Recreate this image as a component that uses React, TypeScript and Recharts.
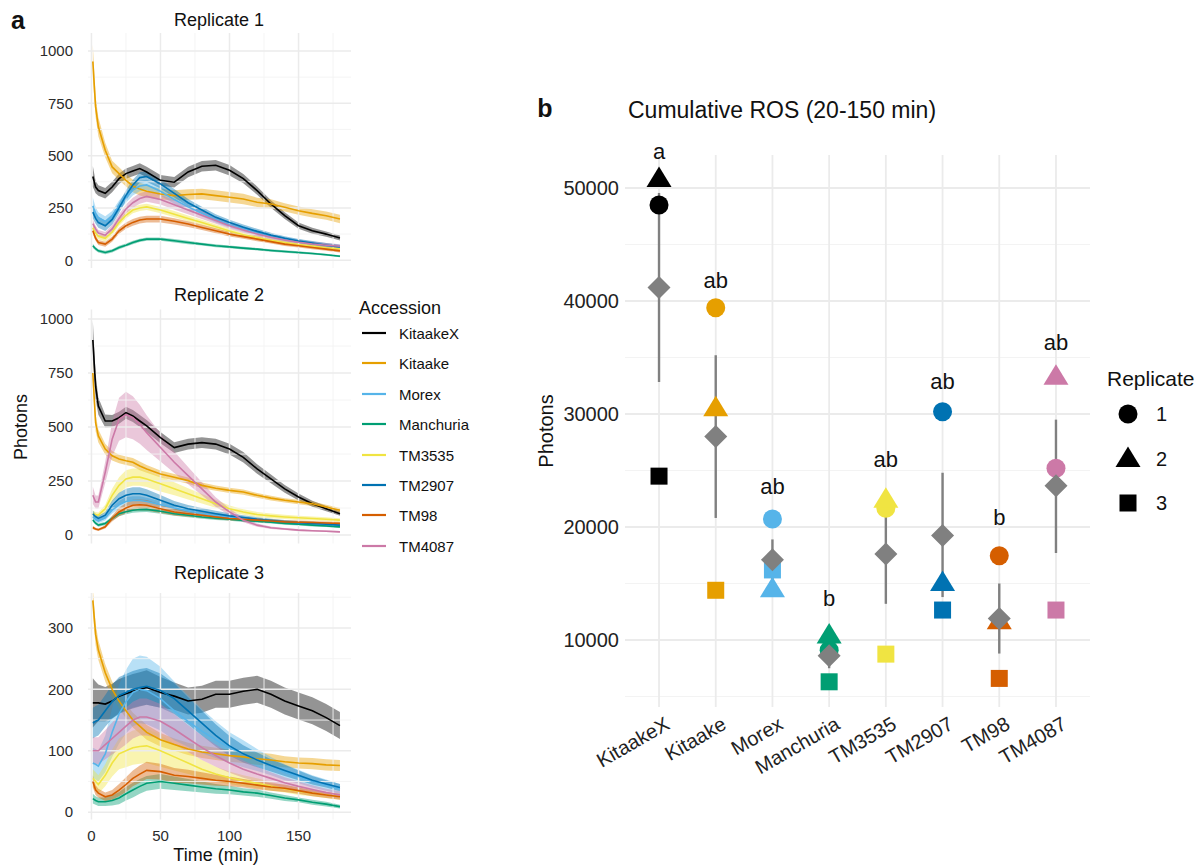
import {
  ComposedChart,
  ScatterChart,
  Scatter,
  Line,
  Area,
  XAxis,
  YAxis,
  ReferenceLine,
  ReferenceDot,
  ErrorBar,
} from "recharts";

const ACCESSIONS = ["KitaakeX", "Kitaake", "Morex", "Manchuria", "TM3535", "TM2907", "TM98", "TM4087"];

const COLORS: Record<string, string> = {
  KitaakeX: "#000000",
  Kitaake: "#E69F00",
  Morex: "#56B4E9",
  Manchuria: "#009E73",
  TM3535: "#F0E442",
  TM2907: "#0072B2",
  TM98: "#D55E00",
  TM4087: "#CC79A7",
};

// time course (min)
const TIME = [1, 3, 5, 10, 15, 20, 25, 30, 35, 40, 50, 60, 70, 80, 90, 100, 110, 120, 130, 140, 150, 160, 170, 180];

// replicate 1: mean photons per accession (rows follow ACCESSIONS)
const R1_MEAN = [
  [400, 350, 333, 320, 350, 390, 414, 426, 438, 422, 382, 373, 422, 449, 454, 430, 390, 333, 269, 213, 165, 141, 125, 106],
  [950, 734, 638, 526, 446, 414, 382, 355, 340, 330, 317, 309, 314, 317, 309, 301, 293, 277, 269, 253, 237, 224, 213, 197],
  [260, 225, 205, 185, 210, 260, 300, 335, 355, 360, 330, 290, 255, 225, 195, 170, 150, 130, 115, 100, 90, 80, 72, 65],
  [69, 55, 45, 37, 45, 61, 72, 85, 95, 101, 101, 93, 85, 77, 69, 64, 58, 53, 47, 42, 37, 32, 26, 19],
  [155, 130, 115, 105, 135, 180, 215, 240, 250, 255, 240, 220, 200, 180, 160, 140, 122, 108, 95, 85, 75, 68, 60, 55],
  [230, 200, 180, 165, 195, 250, 310, 360, 395, 400, 365, 320, 275, 240, 205, 180, 158, 138, 120, 105, 92, 82, 72, 63],
  [141, 105, 85, 77, 101, 141, 165, 181, 192, 197, 197, 186, 173, 157, 141, 125, 113, 101, 89, 77, 69, 61, 53, 45],
  [175, 150, 130, 120, 150, 200, 245, 275, 295, 305, 290, 265, 240, 215, 190, 165, 145, 125, 110, 97, 86, 78, 72, 67],
];
const R1_SPREAD = [
  [50, 30, 25, 25, 25, 25, 25, 25, 25, 25, 25, 25, 25, 25, 25, 25, 22, 20, 18, 16, 15, 14, 13, 12],
  [80, 50, 45, 35, 30, 30, 30, 30, 30, 30, 25, 25, 25, 25, 25, 25, 25, 22, 22, 20, 20, 20, 20, 20],
  [40, 30, 25, 25, 25, 25, 25, 25, 25, 25, 22, 20, 18, 16, 15, 14, 13, 12, 11, 10, 10, 10, 10, 10],
  [10, 8, 8, 8, 8, 8, 8, 8, 8, 8, 8, 8, 8, 7, 7, 7, 7, 6, 6, 6, 6, 5, 5, 5],
  [20, 15, 15, 15, 15, 15, 15, 15, 15, 15, 15, 15, 14, 13, 12, 11, 10, 10, 9, 9, 8, 8, 8, 8],
  [30, 25, 25, 25, 25, 25, 25, 25, 25, 25, 22, 20, 18, 16, 15, 14, 13, 12, 11, 10, 10, 10, 10, 10],
  [15, 12, 12, 12, 12, 14, 15, 16, 16, 16, 16, 15, 14, 13, 12, 11, 10, 10, 9, 9, 8, 8, 8, 8],
  [20, 15, 15, 15, 18, 20, 22, 24, 25, 25, 24, 22, 20, 18, 16, 15, 14, 13, 12, 11, 10, 10, 10, 10],
];

// replicate 2
const R2_MEAN = [
  [903, 689, 597, 528, 528, 543, 566, 551, 528, 505, 451, 405, 421, 428, 421, 398, 360, 306, 260, 214, 176, 145, 122, 99],
  [750, 520, 459, 398, 367, 352, 344, 337, 320, 306, 283, 268, 252, 230, 217, 207, 199, 184, 171, 161, 153, 145, 130, 115],
  [85, 72, 65, 80, 115, 140, 155, 160, 160, 155, 140, 125, 112, 100, 92, 84, 77, 70, 65, 60, 56, 52, 49, 46],
  [70, 55, 46, 54, 77, 99, 108, 115, 118, 119, 110, 99, 92, 84, 78, 73, 68, 64, 59, 54, 50, 46, 42, 38],
  [99, 95, 92, 122, 184, 230, 260, 268, 268, 260, 237, 214, 191, 168, 145, 122, 107, 95, 89, 84, 80, 77, 73, 69],
  [99, 85, 77, 92, 138, 168, 184, 191, 191, 184, 161, 138, 122, 110, 99, 89, 81, 73, 67, 61, 57, 54, 50, 46],
  [35, 28, 25, 38, 77, 107, 125, 138, 140, 138, 122, 107, 99, 92, 84, 77, 73, 69, 65, 61, 59, 58, 56, 54],
  [184, 153, 153, 291, 444, 536, 558, 543, 513, 474, 405, 337, 275, 214, 153, 107, 69, 46, 34, 28, 23, 20, 18, 15],
];
const R2_SPREAD = [
  [90, 60, 40, 30, 28, 28, 28, 28, 28, 28, 26, 25, 25, 25, 25, 25, 24, 22, 20, 18, 16, 14, 12, 10],
  [60, 40, 30, 25, 22, 20, 20, 20, 20, 18, 16, 15, 14, 13, 12, 12, 12, 11, 11, 10, 10, 10, 10, 10],
  [12, 10, 10, 12, 15, 18, 20, 20, 20, 18, 16, 14, 12, 11, 10, 10, 9, 9, 8, 8, 8, 7, 7, 7],
  [8, 7, 7, 8, 10, 12, 12, 12, 12, 12, 11, 10, 9, 8, 8, 7, 7, 7, 6, 6, 6, 6, 5, 5],
  [15, 12, 12, 18, 30, 38, 40, 40, 40, 38, 35, 30, 26, 22, 18, 15, 13, 12, 11, 10, 10, 9, 9, 9],
  [15, 12, 12, 15, 22, 28, 30, 30, 30, 28, 24, 20, 17, 15, 13, 12, 11, 10, 9, 9, 8, 8, 8, 8],
  [8, 6, 6, 8, 14, 20, 24, 25, 25, 24, 20, 16, 14, 12, 11, 10, 9, 9, 8, 8, 8, 7, 7, 7],
  [40, 30, 30, 50, 80, 100, 105, 100, 90, 80, 65, 50, 40, 30, 22, 16, 10, 8, 6, 5, 5, 4, 4, 4],
];

// replicate 3
const R3_MEAN = [
  [178, 178, 178, 176, 181, 189, 193, 197, 200, 203, 195, 189, 181, 184, 192, 192, 197, 200, 192, 181, 173, 165, 154, 141],
  [345, 290, 264, 227, 200, 181, 165, 150, 140, 130, 118, 110, 103, 98, 95, 92, 90, 87, 85, 82, 80, 79, 77, 76],
  [80, 78, 75, 95, 130, 160, 180, 195, 200, 198, 185, 165, 148, 132, 118, 105, 95, 85, 75, 65, 58, 50, 44, 38],
  [22, 19, 17, 17, 19, 23, 30, 36, 42, 47, 50, 47, 44, 41, 38, 36, 33, 31, 27, 23, 20, 16, 13, 9],
  [55, 50, 45, 60, 80, 95, 100, 105, 107, 108, 100, 90, 80, 70, 62, 56, 51, 47, 42, 38, 34, 31, 28, 25],
  [145, 148, 150, 165, 180, 190, 195, 200, 203, 205, 198, 185, 165, 145, 125, 108, 95, 85, 76, 68, 60, 52, 46, 40],
  [50, 36, 31, 25, 28, 36, 45, 55, 62, 68, 66, 60, 58, 55, 52, 50, 47, 44, 41, 39, 35, 31, 28, 25],
  [100, 100, 100, 110, 120, 130, 140, 150, 155, 155, 148, 135, 120, 105, 92, 80, 70, 62, 55, 48, 42, 37, 32, 28],
];
const R3_SPREAD = [
  [40, 35, 30, 28, 28, 28, 28, 28, 28, 28, 25, 22, 22, 22, 22, 22, 22, 22, 22, 22, 22, 22, 22, 22],
  [20, 18, 16, 14, 13, 12, 12, 12, 12, 12, 11, 10, 10, 10, 10, 10, 10, 10, 10, 9, 9, 9, 9, 9],
  [25, 25, 25, 30, 40, 48, 52, 55, 55, 55, 52, 48, 42, 36, 30, 25, 22, 18, 15, 13, 11, 10, 9, 8],
  [8, 7, 7, 7, 8, 10, 11, 12, 12, 12, 12, 11, 10, 9, 8, 7, 6, 6, 5, 5, 4, 4, 4, 3],
  [15, 15, 15, 18, 22, 25, 27, 28, 28, 28, 26, 22, 18, 15, 12, 10, 9, 8, 7, 6, 6, 5, 5, 5],
  [25, 25, 25, 26, 28, 30, 30, 30, 30, 30, 28, 25, 22, 20, 18, 16, 14, 12, 10, 9, 8, 7, 6, 6],
  [10, 8, 7, 7, 8, 10, 12, 13, 14, 14, 13, 12, 11, 10, 9, 8, 7, 7, 6, 6, 5, 5, 5, 5],
  [22, 22, 22, 24, 26, 28, 30, 30, 30, 30, 28, 25, 22, 20, 18, 16, 14, 12, 10, 9, 8, 7, 6, 6],
];

// panel b: cumulative ROS (20-150 min), one value per accession
const CUM_REP1 = [48500, 39400, 20700, 9100, 21650, 30200, 17450, 25200];
const CUM_REP2 = [50800, 30500, 14500, 10400, 22400, 15050, 11650, 33300];
const CUM_REP3 = [24500, 14400, 16200, 6300, 8750, 12650, 6600, 12650];
const CUM_MEAN = [41200, 28000, 17100, 8600, 17600, 19250, 11900, 23650];
const CUM_LOW = [32830, 20800, 15200, 7500, 13200, 13800, 8800, 17700];
const CUM_HIGH = [49560, 35200, 18900, 9800, 21900, 24800, 15000, 29500];
const LETTERS = ["a", "ab", "ab", "b", "ab", "ab", "b", "ab"];
const LETTER_Y = [53200, 41850, 23550, 13700, 26000, 32900, 20800, 36300];

const TIME_MAJOR = [0, 50, 100, 150];
const TIME_MINOR = [25, 75, 125, 175];

const FONT = '"Liberation Sans", Arial, Helvetica, sans-serif';
const GRID_MAJOR = "#EBEBEB";
const GRID_MINOR = "#F3F3F3";
const GREY = "#808080";

function buildRows(mean: number[][], spread: number[][]) {
  return TIME.map((t, i) => {
    const row: Record<string, any> = { t };
    ACCESSIONS.forEach((a, k) => {
      row[a] = mean[k][i];
      row[a + "_band"] = [mean[k][i] - spread[k][i], mean[k][i] + spread[k][i]];
    });
    return row;
  });
}

interface PanelProps {
  rows: Record<string, any>[];
  top: number;
  height: number;
  marginTop: number;
  plotHeight: number;
  domain: [number, number];
  major: number[];
  minor: number[];
  showTime?: boolean;
}

function ReplicatePanel({ rows, top, height, marginTop, plotHeight, domain, major, minor, showTime }: PanelProps) {
  return (
    <div style={{ position: "absolute", left: 0, top }}>
      <ComposedChart
        width={360}
        height={height}
        data={rows}
        margin={{ top: marginTop, right: 9, left: 10, bottom: showTime ? 0 : height - marginTop - plotHeight }}
      >
        <XAxis
          type="number"
          dataKey="t"
          domain={[-2.5, 188]}
          allowDataOverflow
          ticks={TIME_MAJOR}
          interval={0}
          hide={!showTime}
          height={48.5}
          tickLine={false}
          axisLine={false}
          tickSize={0}
          tickMargin={11}
          tick={{ fontSize: 15, fill: "#2b2b2b" }}
        />
        <YAxis
          type="number"
          domain={domain}
          allowDataOverflow
          ticks={major}
          interval={0}
          width={78}
          tickLine={false}
          axisLine={false}
          tickSize={0}
          tickMargin={15}
          tick={{ fontSize: 15, fill: "#2b2b2b" }}
        />
        {minor.map((v) => (
          <ReferenceLine key={"ym" + v} y={v} stroke={GRID_MINOR} strokeWidth={0.9} />
        ))}
        {TIME_MINOR.map((v) => (
          <ReferenceLine key={"xm" + v} x={v} stroke={GRID_MINOR} strokeWidth={0.9} />
        ))}
        {major.map((v) => (
          <ReferenceLine key={"yM" + v} y={v} stroke={GRID_MAJOR} strokeWidth={1.5} />
        ))}
        {TIME_MAJOR.map((v) => (
          <ReferenceLine key={"xM" + v} x={v} stroke={GRID_MAJOR} strokeWidth={1.5} />
        ))}
        {ACCESSIONS.map((a) => (
          <Line
            key={a}
            type="linear"
            dataKey={a}
            stroke={COLORS[a]}
            strokeWidth={1.6}
            dot={false}
            isAnimationActive={false}
          />
        ))}
        {ACCESSIONS.map((a) => (
          <Area
            key={a + "_band"}
            type="linear"
            dataKey={a + "_band"}
            stroke="none"
            fill={COLORS[a]}
            fillOpacity={0.42}
            isAnimationActive={false}
          />
        ))}
      </ComposedChart>
    </div>
  );
}

function Txt({
  x,
  y,
  size,
  children,
  align = "center",
  bold,
  rotate,
}: {
  x: number;
  y: number;
  size: number;
  children: React.ReactNode;
  align?: "center" | "left";
  bold?: boolean;
  rotate?: boolean;
}) {
  const tx = align === "center" ? "-50%" : "0";
  return (
    <div
      style={{
        position: "absolute",
        left: x,
        top: y,
        fontSize: size,
        lineHeight: 1,
        whiteSpace: "nowrap",
        fontWeight: bold ? 700 : 400,
        color: "#111",
        transform: `translate(${tx}, -50%)${rotate ? " rotate(-90deg)" : ""}`,
      }}
    >
      {children}
    </div>
  );
}

function Symbol({ kind, cx, cy, fill }: { kind: number; cx: number; cy: number; fill: string }) {
  if (kind === 1) return <circle cx={cx} cy={cy} r={9.5} fill={fill} />;
  if (kind === 2)
    return <polygon points={`${cx},${cy - 12.5} ${cx + 12.5},${cy + 8} ${cx - 12.5},${cy + 8}`} fill={fill} />;
  if (kind === 3) return <rect x={cx - 8.5} y={cy - 8.5} width={17} height={17} fill={fill} />;
  return <polygon points={`${cx},${cy - 11.5} ${cx + 11.5},${cy} ${cx},${cy + 11.5} ${cx - 11.5},${cy}`} fill={fill} />;
}

const AccessionTick = (props: any) => {
  const { x, y, payload } = props;
  const px = x + 12;
  const py = y + 21;
  return (
    <text x={px} y={py} transform={`rotate(-30, ${px}, ${py})`} textAnchor="end" fontSize={20} fill="#222">
      {ACCESSIONS[payload.value]}
    </text>
  );
};

const CUM_MAJOR = [10000, 20000, 30000, 40000, 50000];
const CUM_MINOR = [5000, 15000, 25000, 35000, 45000];

export default function App() {
  const r1 = buildRows(R1_MEAN, R1_SPREAD);
  const r2 = buildRows(R2_MEAN, R2_SPREAD);
  const r3 = buildRows(R3_MEAN, R3_SPREAD);

  const reps = [CUM_REP1, CUM_REP2, CUM_REP3].map((vals) =>
    vals.map((y, i) => ({ x: i, y, color: COLORS[ACCESSIONS[i]] }))
  );
  const means = CUM_MEAN.map((y, i) => ({ x: i, y, err: [y - CUM_LOW[i], CUM_HIGH[i] - y] }));

  return (
    <div
      style={{
        position: "absolute",
        left: 0,
        top: 0,
        width: 1199,
        height: 868,
        background: "#fff",
        fontFamily: FONT,
        overflow: "hidden",
      }}
    >
      <ReplicatePanel rows={r1} top={0} height={275} marginTop={33} plotHeight={235} domain={[-37, 1086]} major={[0, 250, 500, 750, 1000]} minor={[125, 375, 625, 875]} />
      <ReplicatePanel rows={r2} top={280} height={270} marginTop={29.5} plotHeight={234} domain={[-39, 1044]} major={[0, 250, 500, 750, 1000]} minor={[125, 375, 625, 875]} />
      <ReplicatePanel rows={r3} top={560} height={308} marginTop={33} plotHeight={226.5} domain={[-12, 357]} major={[0, 100, 200, 300]} minor={[50, 150, 250, 350]} showTime />

      <Txt x={18} y={20} size={25} bold>a</Txt>
      <Txt x={219} y={20} size={18}>Replicate 1</Txt>
      <Txt x={219} y={295} size={18}>Replicate 2</Txt>
      <Txt x={219} y={573} size={18}>Replicate 3</Txt>
      <Txt x={21} y={427} size={18} rotate>Photons</Txt>
      <Txt x={216} y={855} size={18}>Time (min)</Txt>

      {/* Accession legend */}
      <Txt x={359} y={308} size={18} align="left">Accession</Txt>
      {ACCESSIONS.map((a, i) => (
        <div key={a}>
          <svg style={{ position: "absolute", left: 360, top: 333 + i * 30.4 - 5 }} width={30} height={10}>
            <line x1={2} x2={26} y1={5} y2={5} stroke={COLORS[a]} strokeWidth={2.2} />
          </svg>
          <Txt x={399} y={333 + i * 30.4} size={15} align="left">{a}</Txt>
        </div>
      ))}

      {/* panel b */}
      <div style={{ position: "absolute", left: 520, top: 0 }}>
        <ScatterChart width={679} height={868} margin={{ top: 155, right: 109, left: 25, bottom: 0 }}>
          <XAxis
            type="number"
            dataKey="x"
            domain={[-0.6, 7.6]}
            allowDataOverflow
            ticks={[0, 1, 2, 3, 4, 5, 6, 7]}
            interval={0}
            height={161}
            tickLine={false}
            axisLine={false}
            tickSize={0}
            tickMargin={0}
            tick={<AccessionTick />}
          />
          <YAxis
            type="number"
            dataKey="y"
            domain={[4070, 52920]}
            allowDataOverflow
            ticks={CUM_MAJOR}
            interval={0}
            width={80}
            tickLine={false}
            axisLine={false}
            tickSize={0}
            tickMargin={6}
            tick={{ fontSize: 20, fill: "#222" }}
          />
          {CUM_MINOR.map((v) => (
            <ReferenceLine key={"m" + v} y={v} stroke={GRID_MINOR} strokeWidth={1.2} />
          ))}
          {CUM_MAJOR.map((v) => (
            <ReferenceLine key={"M" + v} y={v} stroke={GRID_MAJOR} strokeWidth={1.8} />
          ))}
          {ACCESSIONS.map((a, i) => (
            <ReferenceLine key={a} x={i} stroke={GRID_MAJOR} strokeWidth={1.8} />
          ))}
          {reps.map((data, k) => (
            <Scatter
              key={k}
              data={data}
              isAnimationActive={false}
              shape={(p: any) => <Symbol kind={k + 1} cx={p.cx} cy={p.cy} fill={p.payload.color} />}
            />
          ))}
          <Scatter
            data={means}
            isAnimationActive={false}
            shape={(p: any) => <Symbol kind={4} cx={p.cx} cy={p.cy} fill={GREY} />}
          >
            <ErrorBar dataKey="err" direction="y" width={0} stroke={GREY} strokeWidth={2.4} />
          </Scatter>
          {LETTERS.map((l, i) => (
            <ReferenceDot
              key={"l" + i}
              x={i}
              y={LETTER_Y[i]}
              r={0}
              ifOverflow="visible"
              shape={(p: any) => (
                <text x={p.cx} y={p.cy} textAnchor="middle" dominantBaseline="central" fontSize={22} fill="#111">
                  {l}
                </text>
              )}
            />
          ))}
        </ScatterChart>
      </div>

      <Txt x={545} y={108} size={25} bold>b</Txt>
      <Txt x={628} y={110} size={23} align="left">Cumulative ROS (20-150 min)</Txt>
      <Txt x={546} y={431} size={20} rotate>Photons</Txt>

      {/* Replicate legend */}
      <Txt x={1107} y={378} size={21} align="left">Replicate</Txt>
      {[1, 2, 3].map((k, i) => (
        <div key={k}>
          <svg style={{ position: "absolute", left: 1113, top: 414 + i * 44.5 - 15 }} width={30} height={30}>
            <Symbol kind={k} cx={15} cy={15} fill="#000" />
          </svg>
          <Txt x={1156} y={414 + i * 44.5} size={20} align="left">{k}</Txt>
        </div>
      ))}
    </div>
  );
}
